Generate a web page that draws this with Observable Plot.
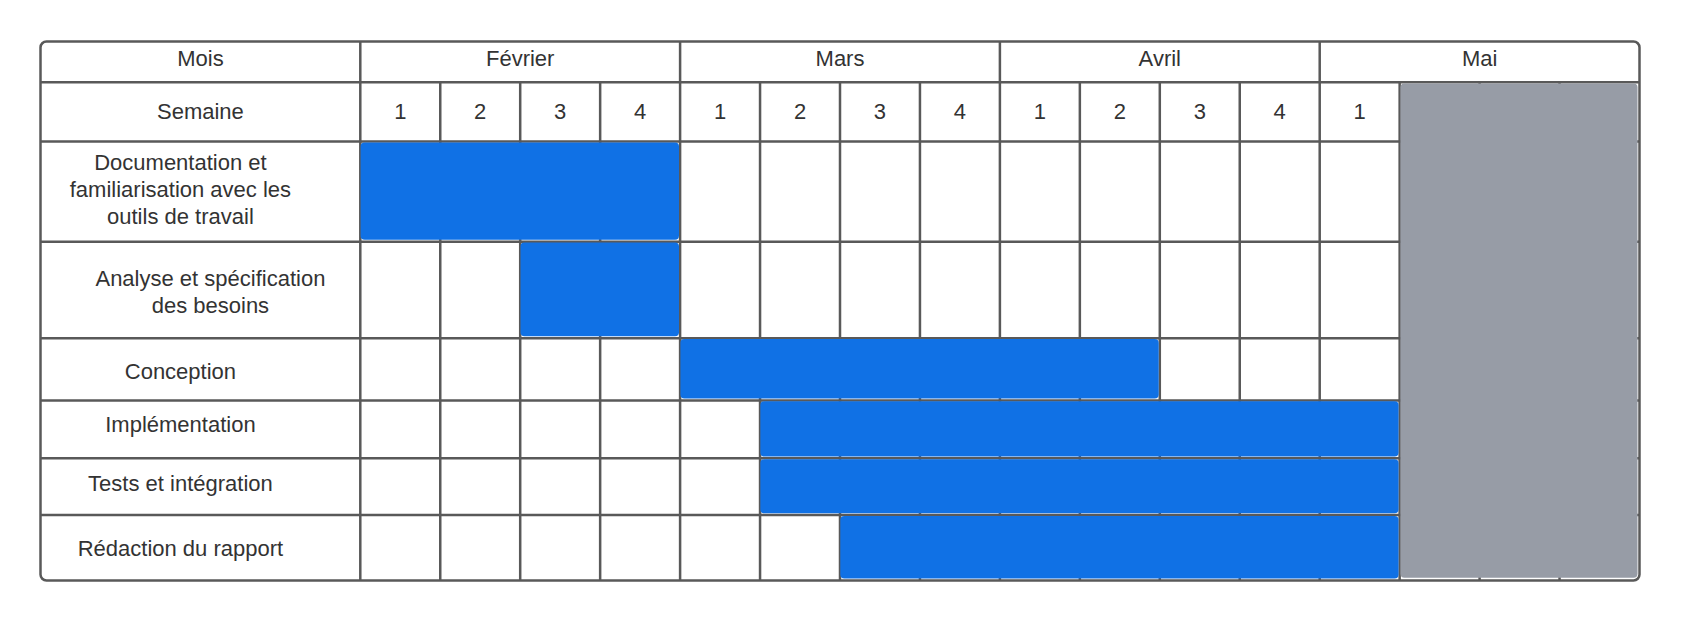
<!DOCTYPE html>
<html>
<head>
<meta charset="utf-8">
<script src="https://cdn.jsdelivr.net/npm/d3@7"></script>
<script src="https://cdn.jsdelivr.net/npm/@observablehq/plot@0.6"></script>
<style>
  html, body { margin: 0; padding: 0; background: #fff; overflow: hidden; }
</style>
</head>
<body>
<div id="chart"></div>
<script>
// ---------------- data ----------------
const months = ["Février", "Mars", "Avril", "Mai"];
const weeksPerMonth = [4, 4, 4, 4];
const weekLabels = [["1", "2", "3", "4"], ["1", "2", "3", "4"], ["1", "2", "3", "4"], ["1"]];
const headerLabels = ["Mois", "Semaine"];
const tasks = [
  "Documentation et\nfamiliarisation avec les\noutils de travail",
  "Analyse et spécification\ndes besoins",
  "Conception",
  "Implémentation",
  "Tests et intégration",
  "Rédaction du rapport"
];
// week index counted from Février semaine 1 = 0 (start inclusive, end exclusive)
const taskStart = [0, 2, 4, 5, 5, 6];
const taskEnd   = [4, 4, 10, 13, 13, 13];

// ---------------- layout ----------------
const W = 1681, H = 620;
const rowHeights = [40.7, 59.3, 100.2, 96.5, 62.2, 57.9, 56.8, 65.4]; // px
const rowTextDy = [-4.3, -1, -3.2, 1, 1, -5.4, -4.3, 0];            // px nudges of row text
const labelColWeeks = 4;          // width of the label column, in weeks
const taskLabelX = -2.25;         // centre of task labels (in weeks)
const taskLabelDx = [0, 30, 0, 0, 0, 0];
const gridColor = "#595959";
const barColor = "#1071e5";
const blockColor = "#979ca6";
const textColor = "#333333";
const font = "Liberation Sans, Arial, sans-serif";
const fontSize = 22;

const rowEdges = [0];
rowHeights.forEach(h => rowEdges.push(rowEdges[rowEdges.length - 1] + h));
const totalH = rowEdges[rowEdges.length - 1];
const monthEdges = [0];
weeksPerMonth.forEach(w => monthEdges.push(monthEdges[monthEdges.length - 1] + w));
const totalWeeks = monthEdges[monthEdges.length - 1];
const mid = i => (rowEdges[i] + rowEdges[i + 1]) / 2;

// derived tables
const monthText = months.map((m, i) => ({label: m, x: (monthEdges[i] + monthEdges[i + 1]) / 2, y: mid(0)}));
const weekText = weekLabels.flatMap((labels, i) =>
  labels.map((l, j) => ({label: l, x: monthEdges[i] + j + 0.5, y: mid(1)})));
const headerText = headerLabels.map((l, i) => ({label: l, x: -labelColWeeks / 2, y: mid(i), dy: rowTextDy[i]}));
const taskData = tasks.map((t, i) => ({
  label: t, start: taskStart[i], end: taskEnd[i],
  top: rowEdges[i + 2], bottom: rowEdges[i + 3], y: mid(i + 2),
  dx: taskLabelDx[i], dy: rowTextDy[i + 2]
}));
const monthLines = monthEdges.slice(0, -1);               // incl. label column divider at 0
const weekLines = d3.range(1, totalWeeks).filter(w => !monthEdges.includes(w));
// unlabelled weeks of the last month are blocked out
const lastM = months.length - 1;
const blocked = [{
  x1: monthEdges[lastM] + weekLabels[lastM].length,
  x2: monthEdges[lastM + 1],
  y1: rowEdges[1], y2: totalH
}];

const textOpts = {fontSize, fontFamily: font, fill: textColor, lineHeight: 1.21};

const chart = Plot.plot({
  width: W,
  height: H,
  marginLeft: 40,
  marginRight: 42,
  marginTop: 41,
  marginBottom: 40,
  style: {background: "#fff", fontFamily: font},
  x: {type: "linear", domain: [-labelColWeeks, totalWeeks], axis: null},
  y: {type: "linear", domain: [0, totalH], reverse: true, axis: null},
  marks: [
    Plot.ruleY(rowEdges.slice(1, -1), {stroke: gridColor, strokeWidth: 2.5}),
    Plot.ruleX(monthLines, {stroke: gridColor, strokeWidth: 2.5}),
    Plot.ruleX(weekLines, {y1: () => rowEdges[1], y2: () => totalH, stroke: gridColor, strokeWidth: 2.5}),
    Plot.rect(taskData, {
      x1: "start", x2: "end", y1: "top", y2: "bottom",
      fill: barColor, rx: 4,
      insetLeft: 0.8, insetRight: 0.6, insetTop: 1.4, insetBottom: 1.4
    }),
    Plot.rect(blocked, {
      x1: "x1", x2: "x2", y1: "y1", y2: "y2",
      fill: blockColor, rx: 4,
      insetLeft: 1.3, insetRight: 1.5, insetTop: 1.8, insetBottom: 2.2
    }),
    Plot.frame({stroke: gridColor, strokeWidth: 2.5, rx: 6}),
    ...headerText.map(d => Plot.text([d], {x: "x", y: "y", text: "label", dy: d.dy, ...textOpts})),
    Plot.text(monthText, {x: "x", y: "y", text: "label", dy: rowTextDy[0], ...textOpts}),
    Plot.text(weekText, {x: "x", y: "y", text: "label", dy: -1.5, ...textOpts}),
    ...taskData.map(d => Plot.text([d], {x: () => taskLabelX, y: "y", text: "label", dx: d.dx, dy: d.dy, ...textOpts}))
  ]
});
document.getElementById("chart").appendChild(chart);
</script>
</body>
</html>
